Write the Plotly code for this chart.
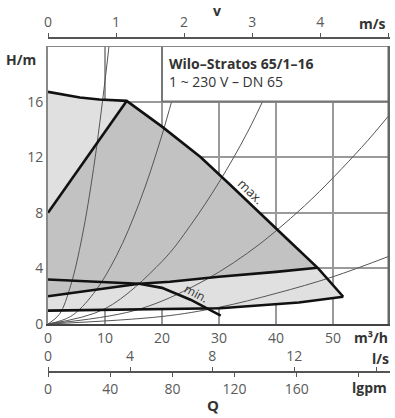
import plotly.graph_objects as go

# ---------------- data ----------------
# flow Q [m3/h], head H [m]
max_Q = [0, 5.6, 9, 13.8, 20, 26.8, 32, 37.2, 42, 47.4, 51.8]
max_H = [16.7, 16.3, 16.15, 16.05, 14.2, 12.0, 10.0, 8.0, 6.1, 4.0, 1.96]

diag_Q = [0, 13.8]
diag_H = [8, 16.05]

upper_Q = [0, 16, 21.4, 30, 40, 47.3]          # lower edge of the dark (dp-v) zone
upper_H = [2.0, 2.9, 3.04, 3.4, 3.75, 4.05]

min_Q = [0, 10, 16, 20, 25, 30.3]
min_H = [3.2, 3.03, 2.9, 2.6, 1.75, 0.6]

low_Q = [0, 21.4, 30.2, 44, 51.8]
low_H = [0.96, 1.1, 1.13, 1.55, 1.96]

# system curves (thin)
sys1_Q = [0, 2, 4, 6, 8, 10, 10.7]
sys1_H = [0, 0.7, 2.8, 6.3, 11.2, 17.5, 20]
sys2_Q = [0, 4, 8, 12, 16, 20, 24.3]
sys2_H = [0, 0.55, 2.2, 4.9, 8.7, 13.6, 20]
sys3_Q = [0, 10, 20, 25, 30, 35, 40, 42]
sys3_H = [0, 1.1, 4.5, 7.1, 10.2, 13.8, 18.1, 20]
sys4_Q = [0, 15, 25, 35, 45, 55, 60]
sys4_H = [0, 0.95, 2.6, 5.1, 8.5, 12.7, 15.1]
sys5_Q = [0, 20, 30, 40, 50, 60]
sys5_H = [0, 0.54, 1.2, 2.2, 3.4, 4.9]

# tick labels
q_ticks = [0, 10, 20, 30, 40, 50]
h_ticks = [0, 4, 8, 12, 16]
v_ticks = [0, 1, 2, 3, 4, 5]
v_text = ["0", "1", "2", "3", "4", ""]
ls_ticks = [0, 4, 8, 12, 16]
ls_text = ["0", "4", "8", "12", ""]
gpm_ticks = [0, 40, 80, 120, 160, 200]
gpm_text = ["0", "40", "80", "120", "160", ""]

Q_MAX = 60
H_MAX = 20
V_PER_M3H = 1 / 11.94      # DN 65
LS_PER_M3H = 1 / 3.6
GPM_PER_M3H = 1 / 0.272765

FONT = "Open Sans"
GREY_TXT = "#5a5a5a"
DARK_TXT = "#333333"

fig = go.Figure()

# light grey operating field
light_x = max_Q + low_Q[::-1]
light_y = max_H + low_H[::-1]
fig.add_trace(go.Scatter(x=light_x, y=light_y, fill="toself", fillcolor="#e0e0e0",
                         mode="none", hoverinfo="skip", showlegend=False))

# dark grey field
idx = [i for i, q in enumerate(max_Q) if diag_Q[1] <= q < upper_Q[-1]]
dark_x = diag_Q + [max_Q[i] for i in idx] + upper_Q[::-1]
dark_y = diag_H + [max_H[i] for i in idx] + upper_H[::-1]
fig.add_trace(go.Scatter(x=dark_x, y=dark_y, fill="toself", fillcolor="#c2c2c2",
                         mode="none", hoverinfo="skip", showlegend=False))

# system curves
for qx, hy in [(sys1_Q, sys1_H), (sys2_Q, sys2_H), (sys3_Q, sys3_H),
               (sys4_Q, sys4_H), (sys5_Q, sys5_H)]:
    fig.add_trace(go.Scatter(x=qx, y=hy, mode="lines",
                             line=dict(color="#555555", width=1, shape="spline"),
                             hoverinfo="skip", showlegend=False))

# heavy curves
for qx, hy in [(max_Q, max_H), (diag_Q, diag_H), (upper_Q, upper_H),
               (min_Q, min_H), (low_Q, low_H)]:
    fig.add_trace(go.Scatter(x=qx, y=hy, mode="lines",
                             line=dict(color="#111111", width=2.6),
                             hoverinfo="skip", showlegend=False))

# dummy traces for the secondary axes
for ax in ["x2", "x3", "x4"]:
    fig.add_trace(go.Scatter(x=[None], y=[None], xaxis=ax, yaxis="y",
                             hoverinfo="skip", showlegend=False))

W, Hh = 395, 418
L, R = 48, 5
plot_top, plot_bot = 46, 324
y_dom = [(Hh - plot_bot) / Hh, (Hh - plot_top) / Hh]
pos_v = (Hh - 37.5) / Hh
pos_q = (Hh - 372) / Hh

tickfont = dict(family=FONT, size=14, color=GREY_TXT)

fig.update_layout(
    width=W, height=Hh, autosize=False,
    margin=dict(l=L, r=R, t=0, b=0, autoexpand=False),
    paper_bgcolor="white", plot_bgcolor="white",
    font=dict(family=FONT),
    xaxis=dict(range=[0, Q_MAX], tickvals=q_ticks, ticktext=[str(t) for t in q_ticks],
               showgrid=True, gridcolor="#9a9a9a", gridwidth=2, zeroline=False,
               showline=True, linecolor="#444444", linewidth=2, mirror=False,
               ticks="", tickfont=tickfont, fixedrange=True, automargin=False),
    yaxis=dict(range=[0, H_MAX], domain=y_dom, tickvals=h_ticks,
               ticktext=[str(t) for t in h_ticks],
               showgrid=True, gridcolor="#9a9a9a", gridwidth=2, zeroline=False,
               showline=True, linecolor="#888888", linewidth=2,
               ticks="", tickfont=tickfont, fixedrange=True, automargin=False),
    xaxis2=dict(range=[0, Q_MAX * V_PER_M3H], overlaying="x", anchor="free",
                position=pos_v, side="top", tickvals=v_ticks, ticktext=v_text,
                showgrid=False, zeroline=False, showline=True, linecolor="#555555",
                linewidth=2, ticks="outside", ticklen=4, tickcolor="#555555",
                tickfont=tickfont, automargin=False, fixedrange=True),
    xaxis3=dict(range=[0, Q_MAX * LS_PER_M3H], overlaying="x", anchor="free",
                position=pos_q, side="top", tickvals=ls_ticks, ticktext=ls_text,
                showgrid=False, zeroline=False, showline=True, linecolor="#555555",
                linewidth=2, ticks="outside", ticklen=4, tickcolor="#555555",
                tickfont=tickfont, automargin=False, fixedrange=True),
    xaxis4=dict(range=[0, Q_MAX * GPM_PER_M3H], overlaying="x", anchor="free",
                position=pos_q, side="bottom", tickvals=gpm_ticks, ticktext=gpm_text,
                showgrid=False, zeroline=False, showline=True, linecolor="#555555",
                linewidth=2, ticks="outside", ticklen=4, tickcolor="#555555",
                tickfont=tickfont, automargin=False, fixedrange=True),
)

# title box, frame top and right bar
fig.add_shape(type="rect", xref="x", yref="y", x0=20, x1=Q_MAX, y0=16, y1=H_MAX,
              fillcolor="white", line=dict(color="#777777", width=2), layer="above")
fig.add_shape(type="line", xref="x", yref="y", x0=0, x1=Q_MAX, y0=H_MAX, y1=H_MAX,
              line=dict(color="#888888", width=2), layer="above")
fig.add_shape(type="line", xref="x", yref="y", x0=Q_MAX, x1=Q_MAX, y0=0, y1=H_MAX,
              line=dict(color="#666666", width=5), layer="above")

def px_x(p):
    return (p - L) / (W - L - R)

def px_y(p):
    return (Hh - p) / Hh

ann = [
    dict(text="<b>Wilo–Stratos 65/1–16</b><br>1 ~ 230 V – DN 65", xref="x", yref="y",
         x=20.9, y=19.6, xanchor="left", yanchor="top", align="left",
         font=dict(size=14, color=DARK_TXT)),
    dict(text="max.", xref="x", yref="y", x=35.5, y=9.55, textangle=44,
         xanchor="center", yanchor="middle", font=dict(size=13, color=DARK_TXT)),
    dict(text="min.", xref="x", yref="y", x=26.1, y=2.2, textangle=28,
         xanchor="center", yanchor="middle", font=dict(size=12, color=DARK_TXT)),
    dict(text="<b>v</b>", xref="paper", yref="paper", x=px_x(217), y=px_y(10),
         xanchor="center", yanchor="middle", font=dict(size=14, color=DARK_TXT)),
    dict(text="<b>m/s</b>", xref="paper", yref="paper", x=px_x(357), y=px_y(23),
         xanchor="left", yanchor="middle", font=dict(size=14, color=DARK_TXT)),
    dict(text="<b>H/m</b>", xref="paper", yref="paper", x=px_x(4), y=px_y(59),
         xanchor="left", yanchor="middle", font=dict(size=14, color=DARK_TXT)),
    dict(text="<b>m³/h</b>", xref="paper", yref="paper", x=px_x(352), y=px_y(337),
         xanchor="left", yanchor="middle", font=dict(size=14, color=DARK_TXT)),
    dict(text="<b>l/s</b>", xref="paper", yref="paper", x=px_x(370), y=px_y(358),
         xanchor="left", yanchor="middle", font=dict(size=14, color=DARK_TXT)),
    dict(text="<b>lgpm</b>", xref="paper", yref="paper", x=px_x(350), y=px_y(387),
         xanchor="left", yanchor="middle", font=dict(size=14, color=DARK_TXT)),
    dict(text="<b>Q</b>", xref="paper", yref="paper", x=px_x(213), y=px_y(405),
         xanchor="center", yanchor="middle", font=dict(size=15, color=DARK_TXT)),
]
for a in ann:
    a.setdefault("showarrow", False)
    fig.add_annotation(**a)

fig.write_html("out.html", config={"displayModeBar": False, "responsive": False},
               post_script="document.body.style.margin='0';")
